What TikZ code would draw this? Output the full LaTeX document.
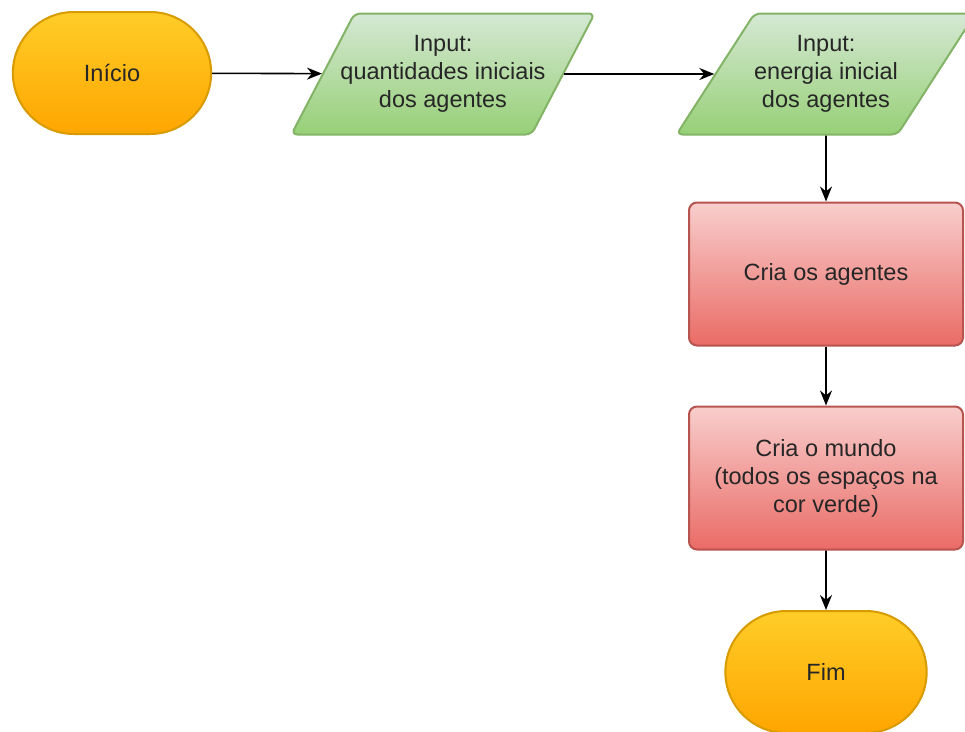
\documentclass[tikz,border=0pt]{standalone}
\usepackage{fontspec}
\setmainfont{Liberation Sans}
\usetikzlibrary{shapes.geometric,shapes.misc,arrows.meta}
\definecolor{termtop}{HTML}{FFCD28}
\definecolor{termbot}{HTML}{FFA500}
\definecolor{termline}{HTML}{D79B00}
\definecolor{intop}{HTML}{D5E8D4}
\definecolor{inbot}{HTML}{97D077}
\definecolor{inline}{HTML}{82B366}
\definecolor{proctop}{HTML}{F8CECC}
\definecolor{procbot}{HTML}{EA6B66}
\definecolor{procline}{HTML}{B85450}
\tikzset{
  every node/.style={font=\fontsize{23.5}{28}\selectfont, text=black!85, align=center},
  terminal/.style={rounded rectangle, draw=termline, top color=termtop, bottom color=termbot,
    line width=2pt, minimum width=205pt, minimum height=122pt},
  inputbox/.style={trapezium, trapezium left angle=53, trapezium right angle=127,
    trapezium stretches=true, draw=inline, top color=intop, bottom color=inbot,
    line width=2pt, rounded corners=6pt, inner xsep=-14pt, minimum height=121pt},
  process/.style={rectangle, rounded corners=8pt, draw=procline, top color=proctop,
    bottom color=procbot, line width=2pt, minimum width=274pt, minimum height=143pt},
  flow/.style={-{Stealth[length=15pt,width=12pt]}, line width=1.6pt},
}
\begin{document}
\begin{tikzpicture}[x=1pt,y=-1pt]
                \clip (0,0) rectangle (965,731);
                \node[terminal] (inicio) at (112,73) {Início};
                \node[inputbox] (inq) at (443,74) {Input:\\quantidades iniciais\\dos agentes};
                \node[inputbox, minimum width=300pt] (ine) at (826,74) {Input:\\energia inicial\\dos agentes};
                \node[process] (agentes) at (826,274) {Cria os agentes};
                \node[process] (mundo) at (826,478) {Cria o mundo\\(todos os espaços na\\cor verde)};
                \node[terminal, minimum width=208pt] (fim) at (826,672) {Fim};
                \draw[flow] (inicio) -- (inq);
                \draw[flow] (inq) -- (ine);
                \draw[flow] (ine) -- (agentes);
                \draw[flow] (agentes) -- (mundo);
                \draw[flow] (mundo) -- (fim);
            \end{tikzpicture}
\end{document}
